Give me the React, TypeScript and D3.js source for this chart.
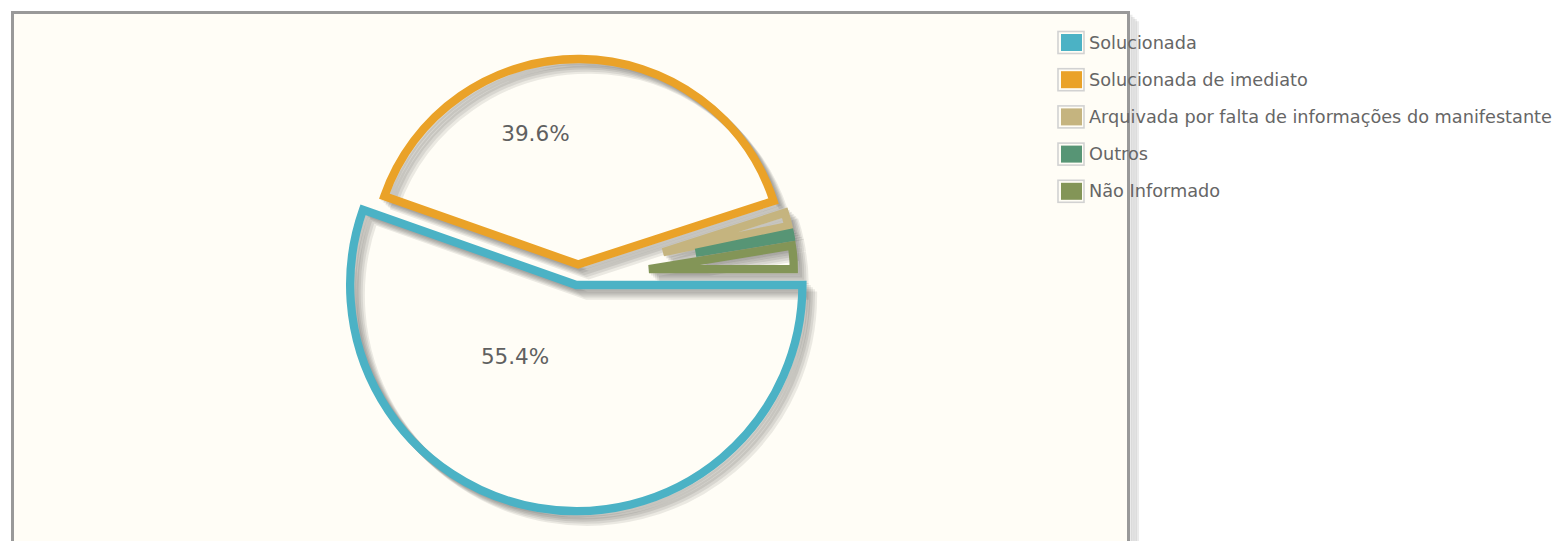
import React from 'react';
import * as d3 from 'd3';

// data
const categories = [
  'Solucionada',
  'Solucionada de imediato',
  'Arquivada por falta de informações do manifestante',
  'Outros',
  'Não Informado',
];
const values = [55.4, 39.6, 1.7, 0.7, 2.6];
const colors = ['#4bb2c5', '#EAA228', '#c5b47f', '#579575', '#839557'];

// globals
const width = 1562;
const height = 541;
const grid = { left: 12.5, top: 12.5, right: 1128.5, bottom: 600 };
const center = [578, 275];
const radius = 216;
const lineWidth = 8.3;
const sliceMargin = 12;
const labelThreshold = 3;
const labelFactor = 0.52;
const labelNudge = [-44, -29];
const shadow = { offset: 3, depth: 5, alpha: 0.08, angle: 45 };

// jqplot style slice shift
const radiusAdjust = (ang) => Math.sin((ang - (ang - Math.PI) / 8 / Math.PI) / 2);
const calcShift = (da) => {
  const sm = sliceMargin + 8;
  if (da > 0.01 && da < 6.282) return sm / 2 / radiusAdjust(da);
  return 0;
};

const slices = d3.pie()
  .sort(null)
  .value(d => d)
  .startAngle(Math.PI / 2)
  .endAngle(Math.PI / 2 + 2 * Math.PI)(values)
  .map((p, i) => {
    const da = p.endAngle - p.startAngle;
    const shift = calcShift(da);
    const mid = (p.startAngle + p.endAngle) / 2 - Math.PI / 2;
    const r = da <= Math.PI ? radius - shift : radius + shift;
    return {
      ...p,
      i,
      r,
      mid,
      tx: shift * Math.cos(mid),
      ty: shift * Math.sin(mid),
    };
  });

const arcPath = (s) => d3.arc()
  .innerRadius(0)
  .outerRadius(s.r)
  .startAngle(s.startAngle)
  .endAngle(s.endAngle)();

const sdx = shadow.offset * Math.cos(shadow.angle / 180 * Math.PI);
const sdy = shadow.offset * Math.sin(shadow.angle / 180 * Math.PI);

const legendX = 1058;
const legendY = 42.5;
const legendStep = 37.2;

export default function App() {
  const total = d3.sum(values);

  return (
    <svg
      width={width}
      height={height}
      style={{ position: 'absolute', left: 0, top: 0, background: '#fff' }}
      fontFamily="'DejaVu Sans', Verdana, sans-serif"
    >
      {/* grid shadow */}
      {d3.range(1, 5).map(j => (
        <path
          key={'gs' + j}
          d={`M${grid.right + j * 2.2},${grid.top + j * 2.2} V${grid.bottom}`}
          stroke="rgba(0,0,0,0.08)"
          strokeWidth={3.5}
          fill="none"
        />
      ))}
      <rect
        x={grid.left}
        y={grid.top}
        width={grid.right - grid.left}
        height={grid.bottom - grid.top}
        fill="#fffdf6"
        stroke="#999999"
        strokeWidth={3}
      />

      <g transform={`translate(${center[0]}, ${center[1]})`}>
        {/* shadows first */}
        {slices.map(s => d3.range(1, shadow.depth + 1).map(j => (
          <path
            key={`sh${s.i}-${j}`}
            d={arcPath(s)}
            transform={`translate(${s.tx + j * sdx}, ${s.ty + j * sdy})`}
            fill="none"
            stroke={`rgba(0,0,0,${shadow.alpha})`}
            strokeWidth={lineWidth}
            strokeMiterlimit={10}
          />
        )))}
        {slices.map(s => (
          <path
            key={'sl' + s.i}
            d={arcPath(s)}
            transform={`translate(${s.tx}, ${s.ty})`}
            fill="none"
            stroke={colors[s.i]}
            strokeWidth={lineWidth}
            strokeMiterlimit={10}
          />
        ))}
        {slices.filter(s => s.data / total * 100 >= labelThreshold).map(s => (
          <text
            key={'lb' + s.i}
            x={Math.cos(s.mid) * labelFactor * radius + labelNudge[0]}
            y={Math.sin(s.mid) * labelFactor * radius + labelNudge[1]}
            textAnchor="middle"
            dominantBaseline="central"
            fontSize={21.5}
            fill="#606060"
          >
            {`${(s.data / total * 100).toFixed(1)}%`}
          </text>
        ))}
      </g>

      {/* legend */}
      {categories.map((c, i) => {
        const y = legendY + i * legendStep;
        return (
          <g key={'lg' + i}>
            <rect x={legendX} y={y - 11} width={26} height={22} fill="none" stroke="#d2d2d2" strokeWidth={1.6} />
            <rect x={legendX + 3} y={y - 8.5} width={21} height={17} fill={colors[i]} />
            <text x={1089} y={y + 6} fontSize={17.7} fill="#666666">{c}</text>
          </g>
        );
      })}
    </svg>
  );
}
